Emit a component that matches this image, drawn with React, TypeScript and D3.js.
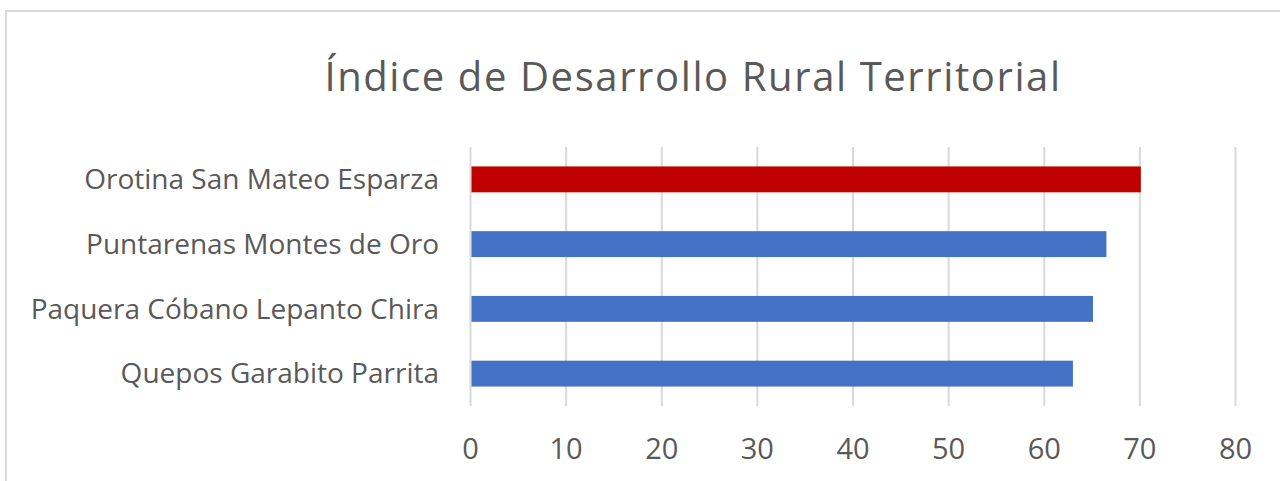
import React, { useEffect, useRef } from "react";
import * as d3 from "d3";

const categories = [
  "Orotina San Mateo Esparza",
  "Puntarenas Montes de Oro",
  "Paquera Cóbano Lepanto Chira",
  "Quepos Garabito Parrita",
];
const values = [70.1, 66.5, 65.1, 63.0];
const highlight = [true, false, false, false];
const xTicks = [0, 10, 20, 30, 40, 50, 60, 70, 80];
const title = "Índice de Desarrollo Rural Territorial";

const W = 1280;
const H = 481;

const App = () => {
  const ref = useRef<SVGSVGElement>(null);

  useEffect(() => {
    const svg = d3.select(ref.current);
    svg.selectAll("*").remove();
    const font = "'Open Sans', sans-serif";
    const textColor = "#595959";

    // chart frame
    svg
      .append("rect")
      .attr("x", 6)
      .attr("y", 11)
      .attr("width", W + 10)
      .attr("height", H + 10)
      .attr("fill", "#fff")
      .attr("stroke", "#d9d9d9")
      .attr("stroke-width", 2);

    svg
      .append("text")
      .attr("x", 693)
      .attr("y", 91)
      .attr("text-anchor", "middle")
      .attr("font-family", font)
      .attr("font-size", 40)
      .attr("letter-spacing", 1.6)
      .attr("fill", textColor)
      .text(title);

    const x = d3.scaleLinear().domain([0, 80]).range([470.5, 1235.5]);
    const y = d3
      .scaleBand()
      .domain(categories)
      .range([147, 406])
      .paddingInner(0.6)
      .paddingOuter(0.3);

    const g = svg.append("g");

    g.selectAll("line.grid")
      .data(xTicks)
      .join("line")
      .attr("class", "grid")
      .attr("x1", (d) => x(d))
      .attr("x2", (d) => x(d))
      .attr("y1", 147)
      .attr("y2", 406)
      .attr("stroke", "#d9d9d9")
      .attr("stroke-width", 2);

    g.selectAll("rect.bar")
      .data(values)
      .join("rect")
      .attr("class", "bar")
      .attr("x", x(0) + 1)
      .attr("y", (d, i) => y(categories[i]) as number)
      .attr("width", (d) => x(d) - x(0) - 1)
      .attr("height", y.bandwidth())
      .attr("fill", (d, i) => (highlight[i] ? "#c00000" : "#4472c4"));

    g.selectAll("text.cat")
      .data(categories)
      .join("text")
      .attr("class", "cat")
      .attr("x", 439)
      .attr("y", (d) => (y(d) as number) + y.bandwidth() / 2)
      .attr("dy", "0.35em")
      .attr("text-anchor", "end")
      .attr("font-family", font)
      .attr("font-size", 28)
      .attr("fill", textColor)
      .text((d) => d);

    g.selectAll("text.tick")
      .data(xTicks)
      .join("text")
      .attr("class", "tick")
      .attr("x", (d) => x(d))
      .attr("y", 459)
      .attr("text-anchor", "middle")
      .attr("font-family", font)
      .attr("font-size", 29)
      .attr("fill", textColor)
      .text((d) => d);
  }, []);

  return (
    <svg
      ref={ref}
      width={W}
      height={H}
      style={{ position: "absolute", left: 0, top: 0, display: "block" }}
    />
  );
};

export default App;
